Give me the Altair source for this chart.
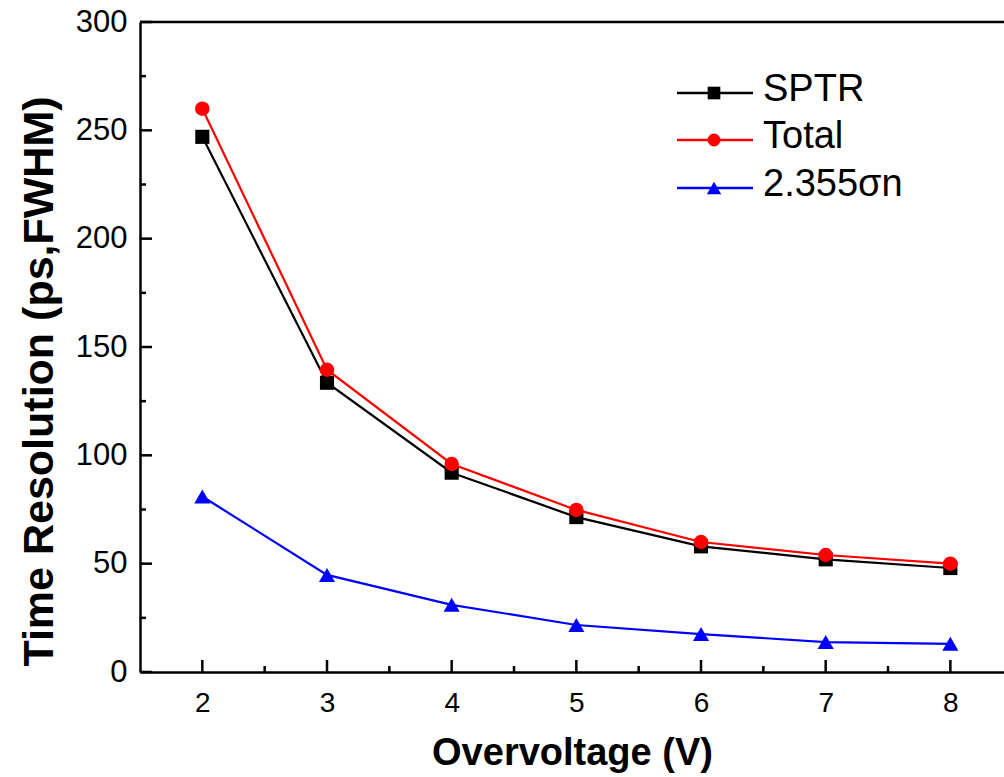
import altair as alt
import pandas as pd

overvoltage = [2, 3, 4, 5, 6, 7, 8]
sptr = [247, 133.5, 92, 71.5, 58, 52, 48]
total = [260, 139.5, 96, 74.8, 60, 54, 50]
sigma_n = [81, 44.8, 31, 21.7, 17.5, 13.8, 13]

series_names = ["SPTR", "Total", "2.355σn"]
series_colors = ["#000000", "#FF0000", "#0000FF"]
series_shapes = ["square", "circle", "triangle-up"]
series_sizes = [200, 210, 260]

x_major = [2, 3, 4, 5, 6, 7, 8]
x_minor = [2.5, 3.5, 4.5, 5.5, 6.5, 7.5]
y_major = [0, 50, 100, 150, 200, 250, 300]
y_minor = [25, 75, 125, 175, 225, 275]

W, H = 864, 650
FONT = "Liberation Sans"

rows = []
for name, vals in zip(series_names, [sptr, total, sigma_n]):
    for xv, yv in zip(overvoltage, vals):
        rows.append({"series": name, "x": xv, "y": yv})
df = pd.DataFrame(rows)

xscale = alt.Scale(domain=[1.5, 1.5 + W / 124.67], nice=False, zero=False)
yscale = alt.Scale(domain=[0, 300], nice=False)

xaxis = alt.Axis(values=x_major, format="d", title="Overvoltage (V)", ticks=False, tickSize=0, grid=False,
                 labelFontSize=28, labelFont=FONT, labelPadding=17, labelColor="black",
                 titleFont=FONT, titleFontSize=38, titleFontWeight="bold", titlePadding=17,
                 titleColor="black", domainColor="black", domainWidth=2.5)
yaxis = alt.Axis(values=y_major, format="d", title="Time Resolution (ps,FWHM)", ticks=False, tickSize=0, grid=False,
                 labelFontSize=31, labelFont=FONT, labelPadding=13, labelColor="black",
                 titleFont=FONT, titleFontSize=43, titleFontWeight="bold", titlePadding=14,
                 titleY=359, titleColor="black", domainColor="black", domainWidth=2.5)

base = alt.Chart(df)
layers = []
for name, col, shp, sz in zip(series_names, series_colors, series_shapes, series_sizes):
    sub = base.transform_filter(alt.datum.series == name)
    layers.append(sub.mark_line(color=col, strokeWidth=2.2).encode(
        x=alt.X("x:Q", scale=xscale, axis=xaxis), y=alt.Y("y:Q", scale=yscale, axis=yaxis)))
    layers.append(sub.mark_point(shape=shp, filled=True, color=col, size=sz, opacity=1).encode(
        x=alt.X("x:Q", scale=xscale), y=alt.Y("y:Q", scale=yscale)))

# inward ticks
xmaj = alt.Chart(pd.DataFrame({"t": x_major})).mark_rule(color="black", strokeWidth=2.5).encode(
    x=alt.X("t:Q", scale=xscale), y=alt.value(H), y2=alt.value(H - 12))
xmin = alt.Chart(pd.DataFrame({"t": x_minor})).mark_rule(color="black", strokeWidth=2.5).encode(
    x=alt.X("t:Q", scale=xscale), y=alt.value(H), y2=alt.value(H - 6))
ymaj = alt.Chart(pd.DataFrame({"t": y_major})).mark_rule(color="black", strokeWidth=2.5).encode(
    y=alt.Y("t:Q", scale=yscale), x=alt.value(0), x2=alt.value(12))
ymin = alt.Chart(pd.DataFrame({"t": y_minor})).mark_rule(color="black", strokeWidth=2.5).encode(
    y=alt.Y("t:Q", scale=yscale), x=alt.value(0), x2=alt.value(6))
top = alt.Chart(pd.DataFrame({"a": [0]})).mark_rule(color="black", strokeWidth=2.5).encode(
    y=alt.value(0), x=alt.value(0), x2=alt.value(W))

# manual legend
leg = []
leg_y = [71, 118, 166]
for name, col, shp, sz, ly in zip(series_names, series_colors, series_shapes, series_sizes, leg_y):
    one = alt.Chart(pd.DataFrame({"series": [name]}))
    leg.append(one.mark_rule(color=col, strokeWidth=2.5).encode(
        x=alt.value(537), x2=alt.value(613), y=alt.value(ly)))
    leg.append(one.mark_point(shape=shp, filled=True, color=col, size=sz * 0.8, opacity=1).encode(
        x=alt.value(574), y=alt.value(ly)))
    leg.append(one.mark_text(align="left", baseline="middle", font=FONT, fontSize=38, color="black").encode(
        x=alt.value(623), y=alt.value(ly - 3), text="series:N"))

chart = alt.layer(*layers, xmaj, xmin, ymaj, ymin, top, *leg).properties(
    width=W, height=H,
    autosize=alt.AutoSizeParams(type="none"),
    padding={"left": 140, "top": 22, "right": 0, "bottom": 105},
).configure_view(stroke=None).configure(background="white")

chart.save("out.html", embed_options={"renderer": "svg", "actions": False})
